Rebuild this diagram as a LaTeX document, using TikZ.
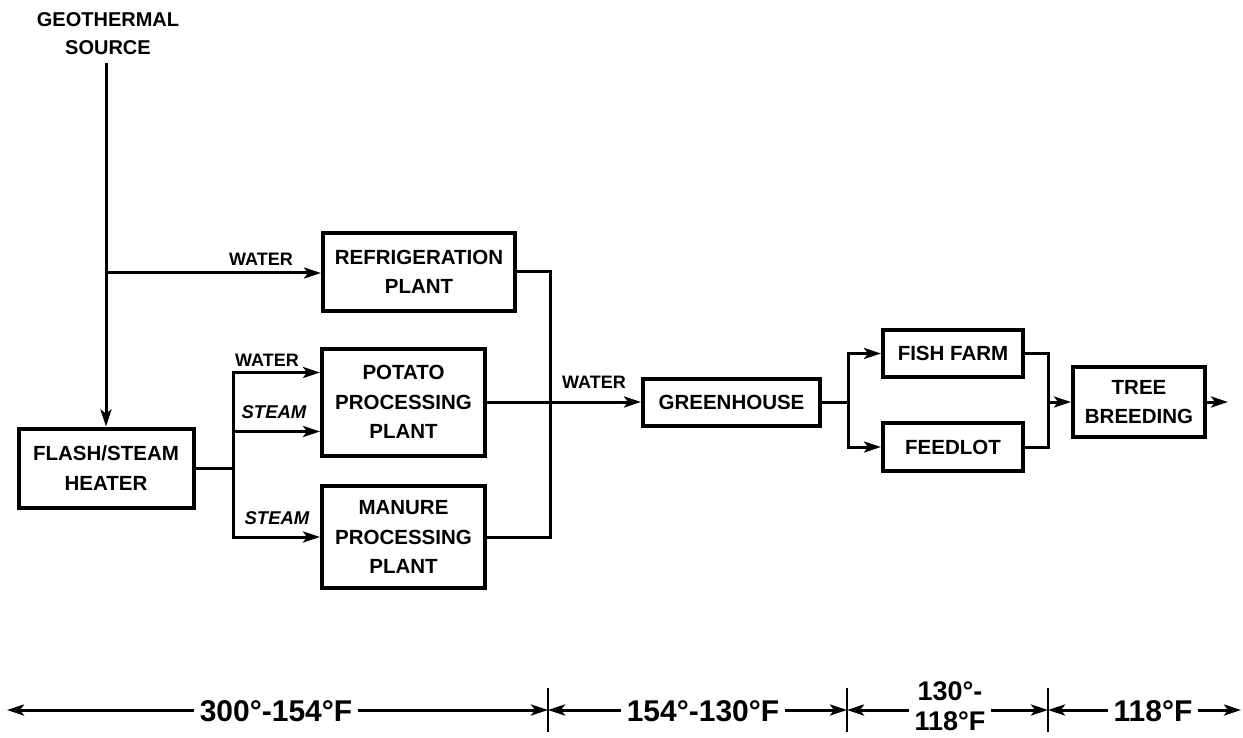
\documentclass[tikz,border=0pt]{standalone}
\usepackage{fontspec}
\setmainfont{Liberation Sans}
\usetikzlibrary{arrows.meta,calc}
\tikzset{
  box/.style={draw, line width=4pt, inner sep=0pt, align=center,
    font=\fontsize{20.5}{29.5}\selectfont\bfseries},
  conn/.style={line width=3pt},
  arr/.style={conn, -{Stealth[length=17pt,width=11pt,inset=4pt]}},
  lbl/.style={inner sep=0pt, font=\fontsize{18}{20}\selectfont\bfseries},
  slbl/.style={inner sep=0pt, font=\fontsize{18.5}{20}\selectfont\bfseries\itshape},
  scl/.style={inner sep=0pt, outer sep=6pt, align=center,
    font=\fontsize{30}{34}\selectfont\bfseries},
  tickline/.style={line width=2.8pt}
}
\begin{document}
\begin{tikzpicture}[x=1pt,y=-1pt]
\useasboundingbox (0,0) rectangle (1243,738);

% source
\node[align=center, inner sep=0pt, font=\fontsize{20}{28}\selectfont\bfseries]
  (src) at (108,34) {GEOTHERMAL\\SOURCE};
\coordinate (srcend) at (106,63);
\coordinate (j1) at (106,273);

% boxes
\node[box, minimum width=175pt, minimum height=79pt] (flash) at (106,468) {FLASH/STEAM\\HEATER};
\node[box, minimum width=192pt, minimum height=78pt] (refrig) at (419,272) {REFRIGERATION\\PLANT};
\node[box, minimum width=163pt, minimum height=107pt] (potato) at (403.5,402) {POTATO\\PROCESSING\\PLANT};
\node[box, minimum width=163pt, minimum height=102pt] (manure) at (403.5,537) {MANURE\\PROCESSING\\PLANT};
\node[box, minimum width=177pt, minimum height=47pt] (green) at (731.5,402) {GREENHOUSE};
\node[box, minimum width=140pt, minimum height=47pt] (fish) at (953,353.5) {FISH FARM};
\node[box, minimum width=140pt, minimum height=48pt] (feed) at (953,447) {FEEDLOT};
\node[box, minimum width=132pt, minimum height=70pt] (tree) at (1139,402) {TREE\\BREEDING};

% source connections
\draw[arr] (srcend) -- (flash.north);
\draw[arr] (j1) -- (j1 -| refrig.west);
\node[lbl] (w1) at (261,259) {WATER};

% flash outputs
\coordinate (j2) at (233,468);
\draw[conn] (flash.east) -- (j2);
\draw[arr] (j2) |- ($(potato.west)+(0,-29.5)$);
\draw[arr] (j2) |- ($(potato.west)+(0,29.5)$);
\draw[arr] (j2) |- (manure.west);
\node[lbl] (w2) at (267,360) {WATER};
\node[slbl] (s1) at (274,412) {STEAM};
\node[slbl] (s2) at (277,518) {STEAM};

% to greenhouse
\coordinate (m) at (550,402);
\draw[conn] (refrig.east) -| (m) |- (manure.east);
\draw[arr] (potato.east) -- (green.west);
\node[lbl] (w3) at (594,382) {WATER};

% greenhouse outputs
\coordinate (j3) at (848,402);
\draw[conn] (green.east) -- (j3);
\draw[arr] (j3) |- (fish.west);
\draw[arr] (j3) |- (feed.west);
\coordinate (j4) at (1048,402);
\draw[conn] (fish.east) -| (j4);
\draw[conn] (feed.east) -| (j4);
\draw[arr] (j4) -- (tree.west);
\coordinate (out) at (1228,402);
\draw[arr] (tree.east) -- (out);

% temperature scale
\coordinate (L) at (7,710);
\coordinate (R) at (1241,710);
\coordinate (t1) at (548,710);
\coordinate (t2) at (847,710);
\coordinate (t3) at (1048,710);
\foreach \t in {t1,t2,t3}{
  \draw[tickline] ($(\t)+(0,-22)$) -- ($(\t)+(0,22)$);
}
\node[scl] (r1) at (276,711) {300°-154°F};
\node[scl] (r2) at (703,711) {154°-130°F};
\node[scl, font=\fontsize{27}{30.5}\selectfont\bfseries] (r3) at (950,706) {130°-\\118°F};
\node[scl] (r4) at (1153,711) {118°F};
\draw[arr] (r1.west |- L) -- (L);
\draw[arr] (r1.east |- L) -- (t1);
\draw[arr] (r2.west |- L) -- (t1);
\draw[arr] (r2.east |- L) -- (t2);
\draw[arr] (r3.west |- L) -- (t2);
\draw[arr] (r3.east |- L) -- (t3);
\draw[arr] (r4.west |- L) -- (t3);
\draw[arr] (r4.east |- L) -- (R);
\end{tikzpicture}
\end{document}
